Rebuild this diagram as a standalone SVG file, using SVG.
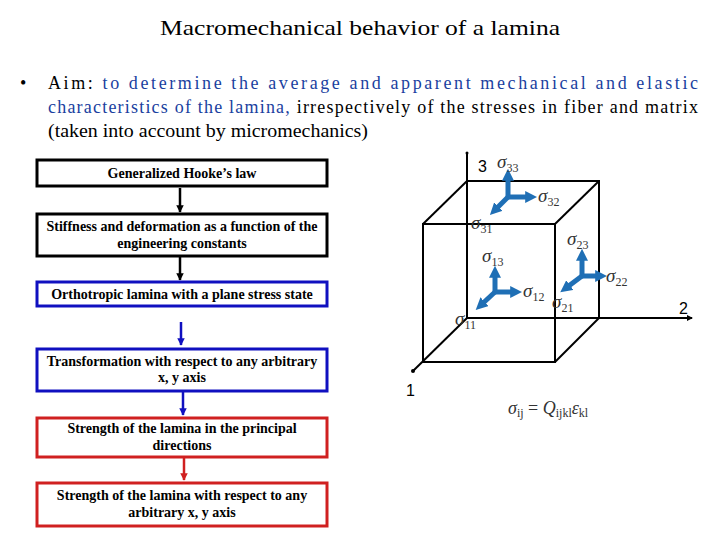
<svg xmlns="http://www.w3.org/2000/svg" width="720" height="540" viewBox="0 0 720 540">
<defs>
<style>
.t{font-family:"Liberation Serif",serif;fill:#000}
.b{font-family:"Liberation Serif",serif;font-size:14px;font-weight:bold;text-anchor:middle;fill:#000}
.bx{fill:#fff;stroke-width:3}
.s{font-family:"Liberation Serif",serif;font-style:italic;font-size:19px;fill:#333}
.sub{font-size:12px;font-style:normal}
.ax{font-family:"Liberation Sans",sans-serif;font-size:16px}
.tri{stroke:#1f6fb5;stroke-width:5;fill:none}
</style>
<marker id="ak" viewBox="0 0 10 10" refX="9" refY="5" markerWidth="3" markerHeight="3" orient="auto"><path d="M0,0L10,5L0,10z" fill="#000"/></marker>
<marker id="ab" viewBox="0 0 10 10" refX="9" refY="5" markerWidth="3" markerHeight="3" orient="auto"><path d="M0,0L10,5L0,10z" fill="#1010c0"/></marker>
<marker id="ar" viewBox="0 0 10 10" refX="9" refY="5" markerWidth="3" markerHeight="3" orient="auto"><path d="M0,0L10,5L0,10z" fill="#d02020"/></marker>
<marker id="at" viewBox="0 0 10 10" refX="4" refY="5" markerWidth="2.4" markerHeight="2.4" orient="auto"><path d="M0,0L10,5L0,10z" fill="#1f6fb5"/></marker>
</defs>
<text class="t" x="160" y="35" font-size="21" textLength="400" lengthAdjust="spacingAndGlyphs">Macromechanical behavior of a lamina</text>
<text class="t" x="20" y="89" font-size="18">•</text>
<text class="t" x="48" y="89" font-size="18" textLength="650" lengthAdjust="spacing">Aim: <tspan fill="#1a3fa0">to determine the average and apparent mechanical and elastic</tspan></text>
<text class="t" x="48" y="113" font-size="18" textLength="650" lengthAdjust="spacing"><tspan fill="#1a3fa0">characteristics of the lamina,</tspan> irrespectively of the stresses in fiber and matrix</text>
<text class="t" x="48" y="137" font-size="18" textLength="320" lengthAdjust="spacingAndGlyphs">(taken into account by micromechanics)</text>

<g id="connectors" stroke-width="2.5">
<line x1="180" y1="188" x2="180" y2="212" stroke="#000" marker-end="url(#ak)"/>
<line x1="180" y1="257" x2="180" y2="280" stroke="#000" marker-end="url(#ak)"/>
<line x1="181" y1="322" x2="181" y2="345" stroke="#1010c0" marker-end="url(#ab)"/>
<line x1="183" y1="392" x2="183" y2="415" stroke="#1010c0" marker-end="url(#ab)"/>
<line x1="184" y1="458" x2="184" y2="480" stroke="#d02020" marker-end="url(#ar)"/>
</g>
<g id="n1"><rect class="bx" x="37" y="160" width="290" height="26" stroke="#000"/><text class="b" x="182" y="178">Generalized Hooke’s law</text></g>
<g id="n2"><rect class="bx" x="37" y="214" width="290" height="42" stroke="#000"/><text class="b" x="182" y="231">Stiffness and deformation as a function of the</text><text class="b" x="182" y="248">engineering constants</text></g>
<g id="n3"><rect class="bx" x="37" y="282" width="290" height="24" stroke="#1010c0"/><text class="b" x="182" y="299">Orthotropic lamina with a plane stress state</text></g>
<g id="n4"><rect class="bx" x="37" y="349" width="290" height="42" stroke="#1010c0"/><text class="b" x="182" y="366">Transformation with respect to any arbitrary</text><text class="b" x="182" y="382">x, y axis</text></g>
<g id="n5"><rect class="bx" x="37" y="418" width="290" height="39" stroke="#d02020"/><text class="b" x="182" y="433">Strength of the lamina in the principal</text><text class="b" x="182" y="450">directions</text></g>
<g id="n6"><rect class="bx" x="37" y="483" width="290" height="43" stroke="#d02020"/><text class="b" x="182" y="500">Strength of the lamina with respect to any</text><text class="b" x="182" y="517">arbitrary x, y axis</text></g>

<g id="cube" stroke="#000" stroke-width="2" fill="none">
<line x1="467" y1="318" x2="467" y2="153"/>
<line x1="467" y1="318" x2="692" y2="318"/>
<line x1="467" y1="318" x2="413" y2="371"/>
<rect x="467" y="181" width="132" height="137"/>
<rect x="423" y="224" width="132" height="138"/>
<line x1="423" y1="224" x2="467" y2="181"/>
<line x1="555" y1="224" x2="599" y2="181"/>
<line x1="555" y1="362" x2="599" y2="318"/>
</g>
<circle cx="413" cy="371" r="2" fill="#000"/>
<circle cx="467" cy="153" r="1.5" fill="#000"/>
<path d="M687,315L693,318L687,321z" fill="#000"/>
<text class="ax" x="478" y="172">3</text>
<text class="ax" x="679" y="314">2</text>
<text class="ax" x="406" y="396">1</text>
<g id="triads">
<g class="tri"><line x1="508" y1="197" x2="508" y2="176" marker-end="url(#at)"/><line x1="508" y1="197" x2="530" y2="197" marker-end="url(#at)"/><line x1="508" y1="197" x2="495" y2="210" marker-end="url(#at)"/></g>
<g class="tri"><line x1="495" y1="292" x2="495" y2="273" marker-end="url(#at)"/><line x1="495" y1="292" x2="515" y2="292" marker-end="url(#at)"/><line x1="495" y1="292" x2="481" y2="305" marker-end="url(#at)"/></g>
<g class="tri"><line x1="582" y1="276" x2="582" y2="256" marker-end="url(#at)"/><line x1="582" y1="276" x2="600" y2="276" marker-end="url(#at)"/><line x1="582" y1="276" x2="566" y2="288" marker-end="url(#at)"/></g>
</g>
<text class="s" x="497" y="168">σ<tspan class="sub" dy="4">33</tspan></text>
<text class="s" x="538" y="202">σ<tspan class="sub" dy="4">32</tspan></text>
<text class="s" x="471" y="229">σ<tspan class="sub" dy="4">31</tspan></text>
<text class="s" x="567" y="245">σ<tspan class="sub" dy="4">23</tspan></text>
<text class="s" x="482" y="262">σ<tspan class="sub" dy="4">13</tspan></text>
<text class="s" x="606" y="282">σ<tspan class="sub" dy="4">22</tspan></text>
<text class="s" x="523" y="297">σ<tspan class="sub" dy="4">12</tspan></text>
<text class="s" x="552" y="308">σ<tspan class="sub" dy="4">21</tspan></text>
<text class="s" x="455" y="325">σ<tspan class="sub" dy="4">11</tspan></text>
<text class="s" x="508" y="414" style="font-size:18px">σ<tspan class="sub" dy="3">ij</tspan><tspan dy="-3" style="font-style:normal"> = </tspan>Q<tspan class="sub" dy="3">ijkl</tspan><tspan dy="-3">ε</tspan><tspan class="sub" dy="3">kl</tspan></text>
</svg>
